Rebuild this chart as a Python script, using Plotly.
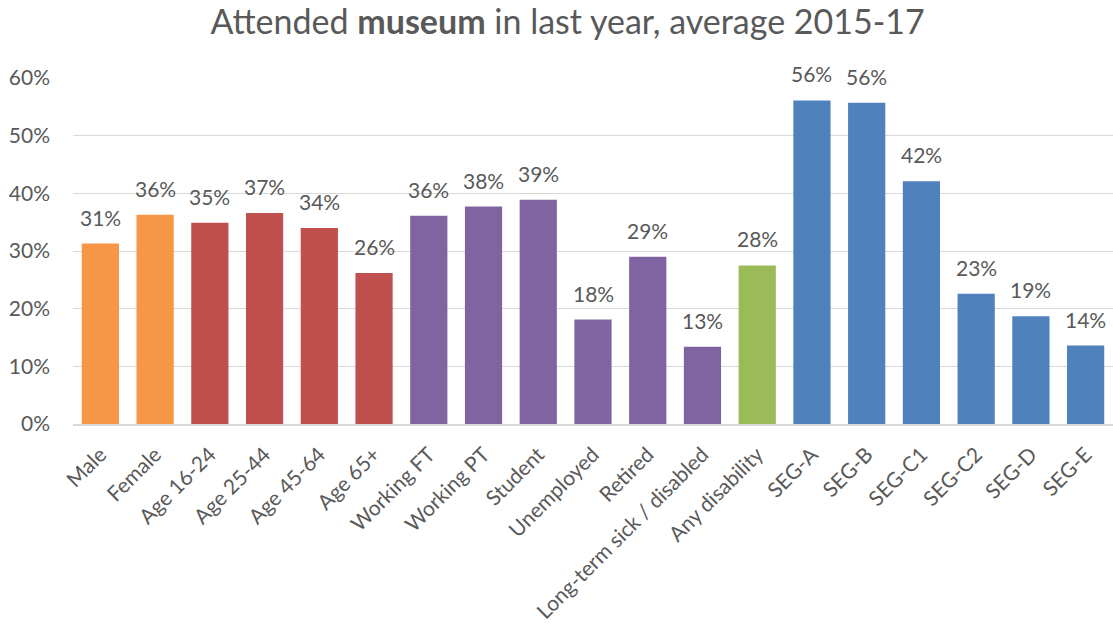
import plotly.graph_objects as go

# Share of adults who attended a museum in the last year, by group (2015-17 average)
categories = [
    "Male", "Female", "Age 16-24", "Age 25-44", "Age 45-64", "Age 65+",
    "Working FT", "Working PT", "Student", "Unemployed", "Retired",
    "Long-term sick / disabled", "Any disability",
    "SEG-A", "SEG-B", "SEG-C1", "SEG-C2", "SEG-D", "SEG-E",
]
values = [
    0.313, 0.363, 0.349, 0.366, 0.340, 0.262,
    0.361, 0.377, 0.389, 0.181, 0.290,
    0.134, 0.275,
    0.561, 0.557, 0.421, 0.226, 0.187, 0.136,
]
groups = [
    "sex", "sex", "age", "age", "age", "age",
    "work", "work", "work", "work", "work",
    "work", "disability",
    "seg", "seg", "seg", "seg", "seg", "seg",
]
y_ticks = [0, 0.1, 0.2, 0.3, 0.4, 0.5, 0.6]

group_colors = {
    "sex": "#F79646",
    "age": "#C0504D",
    "work": "#8064A2",
    "disability": "#9BBB59",
    "seg": "#4F81BD",
}

FONT = "Lato"
GREY = "#595959"

fig = go.Figure()
fig.add_trace(go.Bar(
    x=categories,
    y=values,
    marker=dict(color=[group_colors[g] for g in groups], line=dict(width=0)),
    hovertemplate="%{x}: %{y:.0%}<extra></extra>",
))

# value labels sitting above each bar
for cat, val in zip(categories, values):
    fig.add_annotation(
        x=cat, y=val, text=f"{val:.0%}", showarrow=False,
        yanchor="bottom", yshift=12,
        font=dict(family=FONT, size=21, color=GREY),
    )

fig.update_layout(
    width=1113, height=630,
    margin=dict(l=73, r=0, t=78, b=206),
    paper_bgcolor="white", plot_bgcolor="white",
    bargap=0.32,
    showlegend=False,
    font=dict(family=FONT, size=21, color=GREY),
    title=dict(
        text="Attended <b>museum</b> in last year, average 2015-17",
        x=0.510, xanchor="center", y=1 - 22 / 630, yanchor="middle",
        font=dict(family=FONT, size=34, color=GREY),
    ),
)
fig.update_xaxes(
    tickangle=-45, showgrid=False, showline=True, linecolor="#D9D9D9",
    linewidth=2, ticks="", ticklabelstandoff=8, automargin=False,
    tickfont=dict(family=FONT, size=21, color=GREY),
)
fig.update_yaxes(
    range=[0, 0.6], tickvals=y_ticks, tickformat=".0%",
    showgrid=True, gridcolor="#D9D9D9", gridwidth=1.3,
    zeroline=False, showline=False, ticks="", ticklabelstandoff=22,
    automargin=False,
    tickfont=dict(family=FONT, size=21, color=GREY),
)

fig.write_html("out.html")
